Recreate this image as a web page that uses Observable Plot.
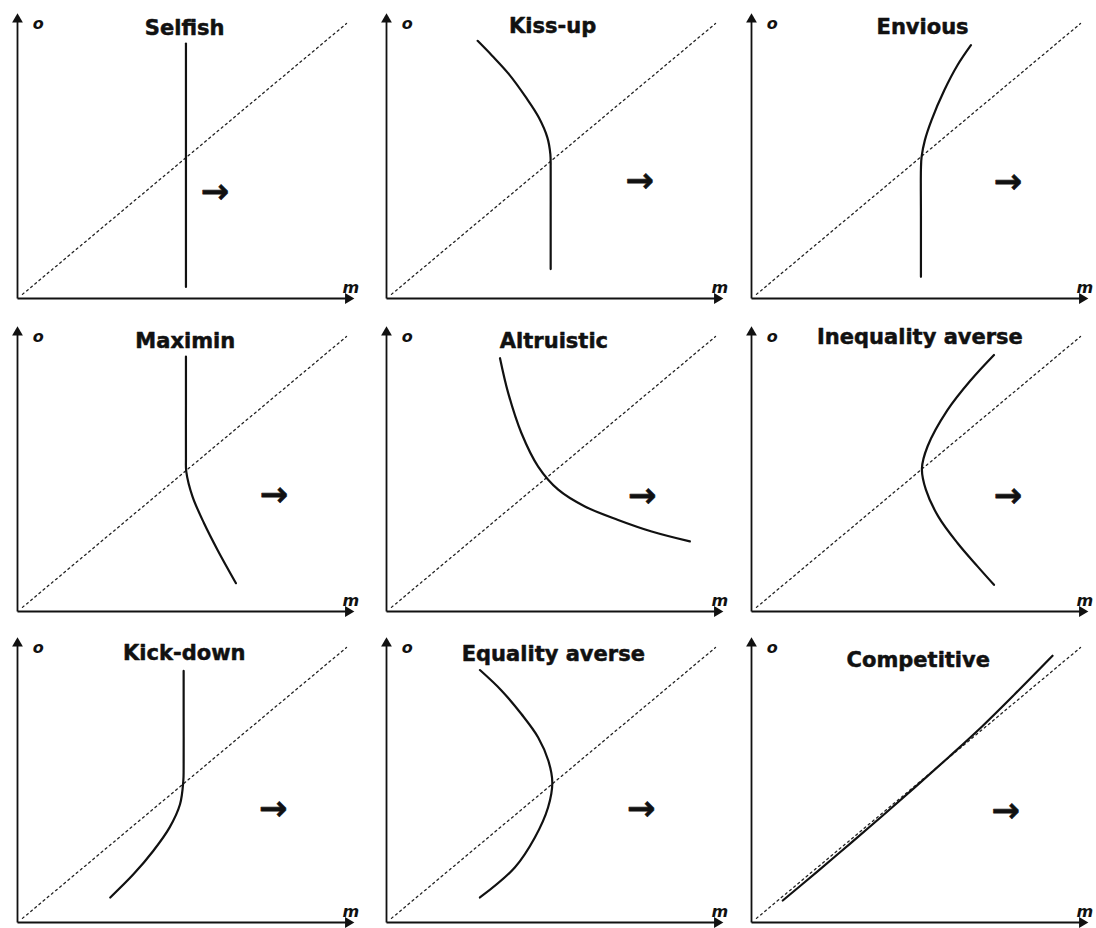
<!DOCTYPE html>
<html><head><meta charset="utf-8">
<script src="https://cdn.jsdelivr.net/npm/d3@7"></script>
<script src="https://cdn.jsdelivr.net/npm/@observablehq/plot@0.6"></script>
<style>
html,body{margin:0;padding:0;background:#fff;overflow:hidden}
#grid{position:relative;width:1096px;height:928px;overflow:hidden;background:#fff}
#grid > div, #grid > svg{position:absolute}
</style></head><body><div id="grid"></div>
<script>
// Panel titles (row by row)
const titles = ["Selfish","Kiss-up","Envious","Maximin","Altruistic","Inequality averse","Kick-down","Equality averse","Competitive"];

// Curve points, m (own payoff) as a function of o (other's payoff), ordered by o
const curveO = [
  [0.042, 0.927],
  [0.107, 0.30, 0.47, 0.525, 0.585, 0.658, 0.731, 0.816, 0.883, 0.937],
  [0.079, 0.30, 0.47, 0.515, 0.576, 0.648, 0.757, 0.848, 0.921],
  [0.103, 0.224, 0.321, 0.418, 0.509, 0.56, 0.75, 0.927],
  [0.255, 0.291, 0.333, 0.382, 0.443, 0.527, 0.649, 0.794, 0.921],
  [0.097, 0.164, 0.249, 0.345, 0.443, 0.520, 0.600, 0.733, 0.842, 0.933],
  [0.091, 0.176, 0.261, 0.345, 0.430, 0.515, 0.56, 0.75, 0.915],
  [0.091, 0.200, 0.309, 0.418, 0.509, 0.588, 0.673, 0.758, 0.843, 0.918],
  [0.080, 0.185, 0.287, 0.390, 0.495, 0.602, 0.712, 0.830, 0.970]
];
const curveM = [
  [0.512, 0.512],
  [0.499, 0.499, 0.499, 0.498, 0.489, 0.463, 0.424, 0.372, 0.321, 0.277],
  [0.515, 0.515, 0.515, 0.517, 0.527, 0.547, 0.586, 0.626, 0.667],
  [0.664, 0.608, 0.567, 0.532, 0.513, 0.512, 0.512, 0.512],
  [0.922, 0.806, 0.704, 0.603, 0.522, 0.461, 0.410, 0.370, 0.345],
  [0.737, 0.687, 0.626, 0.568, 0.530, 0.518, 0.535, 0.596, 0.667, 0.737],
  [0.282, 0.353, 0.413, 0.462, 0.494, 0.504, 0.505, 0.505, 0.505],
  [0.284, 0.390, 0.451, 0.491, 0.504, 0.492, 0.461, 0.410, 0.350, 0.284],
  [0.095, 0.200, 0.300, 0.400, 0.500, 0.600, 0.700, 0.800, 0.915]
];

// Direction-arrow annotation anchor (data units)
const arrowM = [0.60, 0.77, 0.78, 0.78, 0.777, 0.78, 0.777, 0.774, 0.773];
const arrowO = [0.388, 0.428, 0.424, 0.424, 0.418, 0.418, 0.412, 0.412, 0.406];
// Title anchor (data units)
const titleM = [0.508, 0.505, 0.52, 0.51, 0.509, 0.512, 0.507, 0.507, 0.507];
const titleO = [0.982, 0.99, 0.988, 0.984, 0.982, 0.997, 0.979, 0.976, 0.955];

// Axis labels
const axisLabels = [{m: 0.063, o: 1.0, t: "o"}, {m: 1.013, o: 0.038, t: "m"}];
const diagonal = [{m: 0.015, o: 0.015}, {m: 1, o: 1}];
const axisEnds = {m: 1.005, o: 1.015};

const colLeft = [0, 369, 734];
const rowTop = [0, 313, 624];
const ink = "#111";
const font = "DejaVu Sans, Verdana, sans-serif";

const grid = document.getElementById("grid");
titles.forEach((t, i) => {
  const pts = curveO[i].map((o, j) => ({m: curveM[i][j], o}));
  const chart = Plot.plot({
    width: 370, height: 304,
    marginLeft: 17, marginRight: 24, marginTop: 23, marginBottom: 6,
    x: {domain: [0, 1], axis: null},
    y: {domain: [0, 1], axis: null},
    style: {background: "transparent", overflow: "visible", fontFamily: font},
    marks: [
      Plot.line(diagonal, {x: "m", y: "o", stroke: "#222", strokeWidth: 1.3, strokeDasharray: "2,3.4"}),
      Plot.line(pts, {x: "m", y: "o", curve: "catmull-rom", stroke: ink, strokeWidth: 2.2}),
      Plot.link([{x1: 0, y1: 0, x2: axisEnds.m, y2: 0}, {x1: 0, y1: 0, x2: 0, y2: axisEnds.o}],
        {x1: "x1", y1: "y1", x2: "x2", y2: "y2", stroke: ink, strokeWidth: 1.8}),
      Plot.dot([{x: axisEnds.m, y: 0, a: 90}, {x: 0, y: axisEnds.o, a: 0}],
        {x: "x", y: "y", rotate: "a", symbol: "triangle", r: 4, fill: ink, stroke: null}),
      Plot.text([{m: titleM[i], o: titleO[i], t}],
        {x: "m", y: "o", text: "t", fontSize: 21, fontWeight: "bold", fill: ink, stroke: ink, strokeWidth: 0.5, fontFamily: font}),
      Plot.text([{m: arrowM[i], o: arrowO[i]}],
        {x: "m", y: "o", text: () => "\u2192", fontSize: 34, fontWeight: "bold", fill: ink, stroke: ink, strokeWidth: 0.6, fontFamily: font}),
      Plot.text(axisLabels,
        {x: "m", y: "o", text: "t", fontSize: 16, fontWeight: "bold", fontStyle: "italic", fill: ink, fontFamily: font})
    ]
  });
  chart.style.left = colLeft[i % 3] + "px";
  chart.style.top = rowTop[Math.floor(i / 3)] + "px";
  chart.style.position = "absolute";
  grid.appendChild(chart);
});
</script></body></html>
